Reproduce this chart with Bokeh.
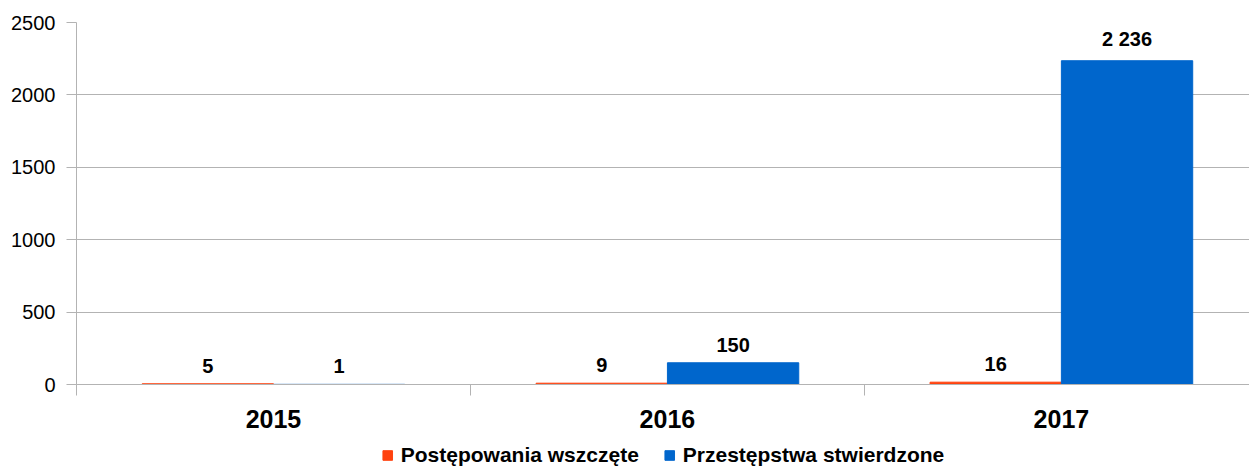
from bokeh.plotting import figure
from bokeh.layouts import column
from bokeh.models import ColumnDataSource, FixedTicker, Legend, LegendItem, Range1d
from bokeh.core.properties import value
from bokeh.embed import file_html
from bokeh.resources import INLINE

years = ["2015", "2016", "2017"]
postepowania = [5, 9, 16]
przestepstwa = [1, 150, 2236]
series_names = ["Postępowania wszczęte", "Przestępstwa stwierdzone"]
colors = ["#ff420e", "#0066cc"]
y_ticks = [0, 500, 1000, 1500, 2000, 2500]

FONT = "Liberation Sans"

def fmt(v):
    return f"{v:,}".replace(",", " ")

centers = [i + 0.5 for i in range(len(years))]
bar_w = 1 / 3

p = figure(width=1249, height=440, output_backend="svg", toolbar_location=None,
           x_range=Range1d(0, len(years) * 0.9925), y_range=Range1d(0, 2500),
           min_border_left=76, min_border_right=0, min_border_top=22, min_border_bottom=56)
p.outline_line_color = None
p.background_fill_color = "white"
p.border_fill_color = "white"

renderers = []
for k, (vals, col) in enumerate(zip([postepowania, przestepstwa], colors)):
    off = (k - 0.5) * bar_w
    xs = [c + off for c in centers]
    src = ColumnDataSource(dict(x=xs, top=vals, label=[fmt(v) for v in vals]))
    r = p.vbar(x="x", top="top", bottom=0, width=bar_w, source=src,
               fill_color=col, line_color=col, line_width=1)
    renderers.append(r)
    p.text(x="x", y="top", text="label", source=src, text_align="center",
           text_baseline="bottom", y_offset=-11, text_font=value(FONT),
           text_font_size="20px", text_font_style="bold", text_color="black")

# y axis
p.yaxis.ticker = FixedTicker(ticks=y_ticks)
p.yaxis.axis_line_color = "#b3b3b3"
p.yaxis.major_tick_line_color = "#b3b3b3"
p.yaxis.major_tick_out = 10
p.yaxis.major_tick_in = 0
p.yaxis.minor_tick_line_color = None
p.yaxis.major_label_text_font = FONT
p.yaxis.major_label_text_font_size = "20px"
p.yaxis.major_label_text_color = "black"
p.yaxis.major_label_standoff = 11

p.ygrid.ticker = FixedTicker(ticks=y_ticks)
p.ygrid.grid_line_color = "#b3b3b3"
p.xgrid.grid_line_color = None

# x axis: labels at category centers, boundary ticks as minor ticks
p.xaxis.ticker = FixedTicker(ticks=centers, minor_ticks=list(range(len(years) + 1)))
p.xaxis.major_label_overrides = {c: y for c, y in zip(centers, years)}
p.xaxis.axis_line_color = "#b3b3b3"
p.xaxis.major_tick_line_color = None
p.xaxis.minor_tick_line_color = "#b3b3b3"
p.xaxis.minor_tick_out = 11
p.xaxis.minor_tick_in = 0
p.xaxis.major_label_text_font = FONT
p.xaxis.major_label_text_font_size = "25px"
p.xaxis.major_label_text_font_style = "bold"
p.xaxis.major_label_text_color = "black"
p.xaxis.major_label_standoff = 14

# legend in a slim strip below the chart (proxy glyphs lie below its visible range)
lf = figure(width=1249, height=27, output_backend="svg", toolbar_location=None,
            x_range=Range1d(0, 1), y_range=Range1d(0, 1),
            min_border_left=16, min_border_right=0, min_border_top=0, min_border_bottom=0)
lf.axis.visible = False
lf.grid.visible = False
lf.outline_line_color = None
leg_renderers = []
for col in colors:
    leg_renderers.append(lf.vbar(x=[0.5], top=[-5], bottom=[-10], width=0.1,
                                 fill_color=col, line_color=col))
legend = Legend(items=[LegendItem(label=n, renderers=[r]) for n, r in zip(series_names, leg_renderers)],
                orientation="horizontal", location="bottom_center",
                label_text_font=FONT, label_text_font_size="21px", label_text_font_style="bold",
                label_text_color="black", glyph_width=12, glyph_height=12, label_height=20,
                label_standoff=8, spacing=24, padding=0, margin=0,
                border_line_color=None, background_fill_alpha=0)
lf.add_layout(legend, "center")

layout = column(p, lf, spacing=0)
open("out.html", "w").write(file_html(layout, INLINE))
